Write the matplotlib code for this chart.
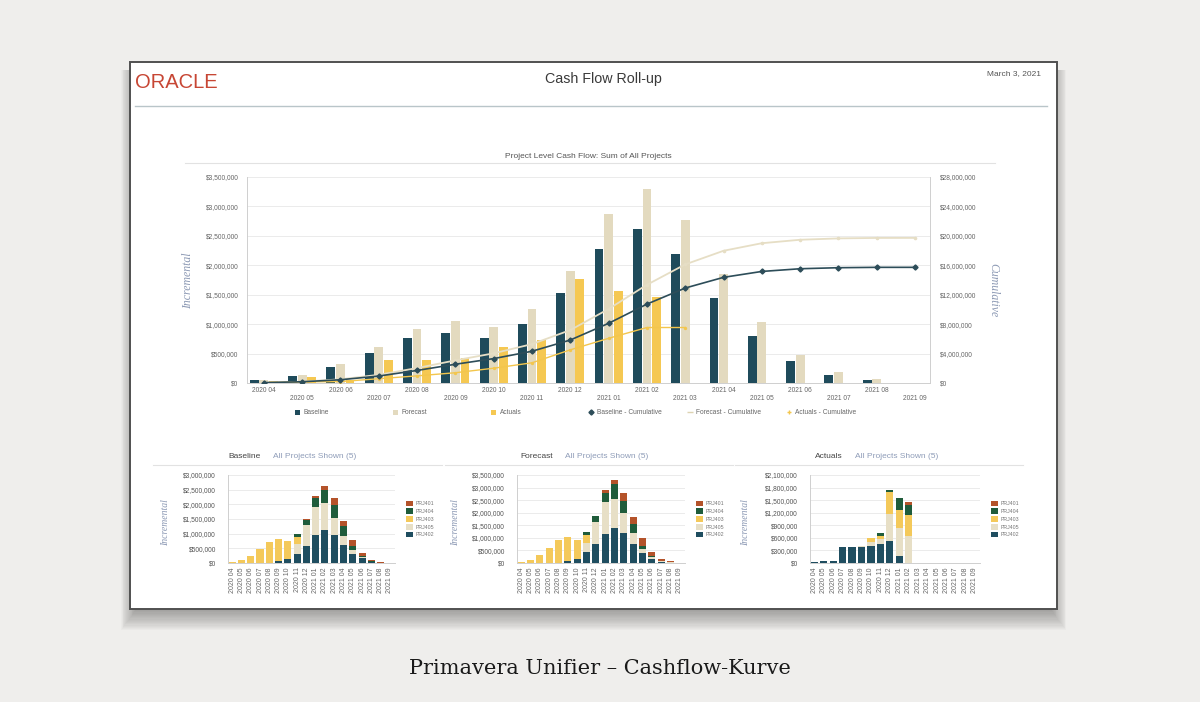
import numpy as np
import matplotlib
matplotlib.use('Agg')
import matplotlib.pyplot as plt
from matplotlib.patches import Rectangle, Patch
from matplotlib.lines import Line2D
from matplotlib.ticker import FuncFormatter, MultipleLocator

plt.rcParams['font.family'] = ['Liberation Sans', 'DejaVu Sans']

# ---------------- data ----------------
months = ['2020 04', '2020 05', '2020 06', '2020 07', '2020 08', '2020 09',
          '2020 10', '2020 11', '2020 12', '2021 01', '2021 02', '2021 03',
          '2021 04', '2021 05', '2021 06', '2021 07', '2021 08', '2021 09']

# main chart, incremental ($)
baseline = np.array([50, 120, 271, 503, 763, 842, 768, 1000, 1525, 2270, 2610, 2187,
                     1452, 802, 367, 141, 51, 0]) * 1000
forecast = np.array([45, 130, 328, 610, 921, 1045, 955, 1254, 1904, 2870, 3288, 2769,
                     1853, 1028, 469, 186, 62, 5]) * 1000
actuals = np.array([40, 107, 50, 384, 390, 424, 616, 735, 1763, 1565, 1469, 0,
                    0, 0, 0, 0, 0, 0]) * 1000
actuals_months_shown = 12  # actuals cumulative drawn through 2021 03

# per-project stacks (bottom -> top)
projects = ['PRJ402', 'PRJ405', 'PRJ403', 'PRJ404', 'PRJ401']

base_proj = {
    'PRJ402': [0, 0, 0, 0, 0, 55, 135, 320, 590, 960, 1130, 950, 600, 305, 170, 30, 10, 0],
    'PRJ405': [0, 0, 0, 0, 0, 0, 0, 330, 710, 960, 910, 580, 330, 145, 30, 10, 5, 0],
    'PRJ403': [35, 113, 250, 490, 725, 770, 600, 250, 0, 0, 0, 0, 0, 0, 0, 0, 0, 0],
    'PRJ404': [0, 0, 0, 0, 0, 0, 0, 100, 150, 280, 450, 450, 320, 140, 50, 30, 0, 0],
    'PRJ401': [0, 0, 0, 0, 0, 0, 0, 0, 50, 90, 140, 250, 180, 200, 80, 43, 30, 0],
}
fore_proj = {
    'PRJ402': [0, 0, 0, 0, 0, 80, 170, 420, 765, 1170, 1390, 1190, 765, 400, 160, 40, 10, 0],
    'PRJ405': [0, 0, 0, 0, 0, 0, 0, 380, 885, 1270, 1140, 790, 445, 155, 80, 20, 10, 0],
    'PRJ403': [30, 130, 300, 580, 920, 950, 730, 330, 0, 0, 0, 0, 0, 0, 0, 0, 0, 0],
    'PRJ404': [0, 0, 0, 0, 0, 0, 0, 100, 220, 360, 610, 500, 350, 135, 50, 30, 10, 0],
    'PRJ401': [0, 0, 0, 0, 0, 0, 0, 0, 0, 90, 160, 290, 260, 300, 145, 80, 30, 0],
}
act_proj = {
    'PRJ402': [20, 50, 50, 370, 370, 380, 395, 455, 535, 157, 0, 0, 0, 0, 0, 0, 0, 0],
    'PRJ405': [0, 0, 0, 0, 0, 15, 95, 110, 645, 670, 645, 0, 0, 0, 0, 0, 0, 0],
    'PRJ403': [0, 0, 0, 0, 0, 0, 100, 80, 510, 445, 495, 0, 0, 0, 0, 0, 0, 0],
    'PRJ404': [0, 8, 8, 0, 0, 0, 0, 65, 60, 280, 240, 0, 0, 0, 0, 0, 0, 0],
    'PRJ401': [0, 0, 0, 0, 0, 0, 0, 0, 0, 0, 80, 0, 0, 0, 0, 0, 0, 0],
}

# ---------------- styles ----------------
C_BASE = '#1f4b5b'
C_FORE = '#e3dabf'
C_ACT = '#f5c852'
proj_colors = {'PRJ402': '#1f4e60', 'PRJ405': '#e7dfc6', 'PRJ403': '#f4c95a',
               'PRJ404': '#1f5c3b', 'PRJ401': '#b4532a'}
TICK_C = '#666666'
AXLAB_C = '#8c99b4'

W, H = 1200, 702
fig = plt.figure(figsize=(W / 100, H / 100), dpi=100, facecolor='#efeeec')
bg = fig.add_axes([0, 0, 1, 1])
bg.set_xlim(0, W)
bg.set_ylim(H, 0)
bg.axis('off')

# soft shadow (mostly below) + frame
for i in range(18):
    bg.add_patch(Rectangle((136 - i * 0.9, 70), 915 + i * 1.8, 540 + i * 1.2,
                           facecolor='black', edgecolor='none', alpha=0.02, zorder=1))
bg.add_patch(Rectangle((130, 62), 927, 547, facecolor='white', edgecolor='#505050',
                       lw=1.4, zorder=2))

# header
bg.text(135, 82, 'ORACLE', color='#c74634', fontsize=14.5, ha='left', va='center', zorder=3)
bg.text(603, 79, 'Cash Flow Roll-up', color='#3a3a3a', fontsize=10.3, ha='center',
        va='center', zorder=3)
bg.text(1041, 74, 'March 3, 2021', color='#555555', fontsize=6, ha='right', va='center',
        zorder=3)
bg.plot([135, 1047], [106, 106], color='#b9c5c9', lw=1, zorder=3)

# caption
bg.text(600, 668, 'Primavera Unifier \u2013 Cashflow-Kurve', family='DejaVu Serif',
        fontsize=15, color='#1a1a1a', ha='center', va='center', zorder=3)

# main chart title
bg.text(588, 156, 'Project Level Cash Flow: Sum of All Projects', color='#555555',
        fontsize=6, ha='center', va='center', zorder=3)
bg.plot([185, 995], [163, 163], color='#e2e2e2', lw=0.8, zorder=3)
bg.text(188, 281, 'Incremental', rotation=90, fontsize=8.5, style='italic',
        family='Liberation Serif', color=AXLAB_C, ha='center', va='center', zorder=3)
bg.text(993, 290, 'Cumulative', rotation=270, fontsize=8.5, style='italic',
        family='Liberation Serif', color=AXLAB_C, ha='center', va='center', zorder=3)


def fax(l, t, r, b):
    a = fig.add_axes([l / W, 1 - b / H, (r - l) / W, (b - t) / H])
    a.set_facecolor('none')
    return a


dollar = FuncFormatter(lambda v, p: f'${v:,.0f}')

# ---------------- main chart ----------------
x = np.arange(len(months))
ax = fax(247, 177, 930, 383)
bw = 0.23
ax.bar(x - 0.25, baseline, bw, color=C_BASE, zorder=2)
ax.bar(x, forecast, bw, color=C_FORE, zorder=2)
ax.bar(x + 0.25, actuals, bw, color=C_ACT, zorder=2)
ax.set_xlim(-0.44, 17.39)
ax.set_ylim(0, 3.5e6)
ax.yaxis.set_major_locator(MultipleLocator(5e5))
ax.yaxis.set_major_formatter(dollar)
ax.grid(axis='y', color='#e8e8e8', lw=0.6, zorder=0)
ax.set_axisbelow(True)
ax.set_xticks(x)
ax.set_xticklabels([m if i % 2 == 0 else '\n' + m for i, m in enumerate(months)])
ax.tick_params(axis='x', length=0, pad=3, labelsize=4.8, labelcolor=TICK_C)
ax.tick_params(axis='y', length=0, pad=6, labelsize=4.8, labelcolor=TICK_C)
for s in ['left', 'right', 'bottom']:
    ax.spines[s].set_color('#cfcfcf')
    ax.spines[s].set_linewidth(0.7)
ax.spines['top'].set_visible(False)

ax2 = ax.twinx()
ax2.set_facecolor('none')
ax2.set_ylim(0, 28e6)
ax2.yaxis.set_major_locator(MultipleLocator(4e6))
ax2.yaxis.set_major_formatter(dollar)
ax2.tick_params(axis='y', length=0, pad=7, labelsize=4.8, labelcolor=TICK_C)
for s in ax2.spines.values():
    s.set_visible(False)
ax2.plot(x, np.cumsum(forecast), color='#e6dec5', lw=1.3, marker='o', ms=1.6, zorder=3)
ax2.plot(x[:actuals_months_shown], np.cumsum(actuals)[:actuals_months_shown],
         color='#f3c64d', lw=1.0, marker='o', ms=1.4, zorder=3)
ax2.plot(x, np.cumsum(baseline), color='#2d4d59', lw=1.2, marker='D', ms=2.6, zorder=4)

# main legend (one small legend per entry)
leg_items = [
    (295, Patch(facecolor=C_BASE), 'Baseline'),
    (393, Patch(facecolor=C_FORE), 'Forecast'),
    (491, Patch(facecolor=C_ACT), 'Actuals'),
    (588, Line2D([], [], color='none', marker='D', ms=2.6, mfc='#2d4d59', mec='#2d4d59'),
     'Baseline - Cumulative'),
    (687, Line2D([], [], color='none', marker='_', ms=4, mec='#ddd3b2'),
     'Forecast - Cumulative'),
    (786, Line2D([], [], color='none', marker='+', ms=3.5, mec='#f3c64d'),
     'Actuals - Cumulative'),
]
for px, h, lab in leg_items:
    fig.legend([h], [lab], loc='center left', bbox_to_anchor=(px / W, 1 - 413 / H),
               frameon=False, fontsize=4.8, handlelength=0.8, handleheight=0.8,
               handletextpad=0.5, borderpad=0, borderaxespad=0, labelcolor=TICK_C)


# ---------------- small charts ----------------
def small_chart(l, r, data, ymax, step, title, title_x, sub_x, line_l, line_r, lab_x):
    a = fax(l, 475, r, 563)
    bottom = np.zeros(len(months))
    for p in projects:
        vals = np.array(data[p]) * 1000
        a.bar(x, vals, 0.76, bottom=bottom, color=proj_colors[p], zorder=2)
        bottom += vals
    a.set_xlim(-0.45, 17.55)
    a.set_ylim(0, ymax)
    a.yaxis.set_major_locator(MultipleLocator(step))
    a.yaxis.set_major_formatter(dollar)
    a.grid(axis='y', color='#e8e8e8', lw=0.6, zorder=0)
    a.set_axisbelow(True)
    a.set_xticks(x)
    a.set_xticklabels(months, rotation=90)
    a.tick_params(axis='x', length=0, pad=3, labelsize=5, labelcolor=TICK_C)
    a.tick_params(axis='y', length=0, pad=8.5, labelsize=4.8, labelcolor='#555555')
    for s in ['top', 'right']:
        a.spines[s].set_visible(False)
    for s in ['left', 'bottom']:
        a.spines[s].set_color('#cfcfcf')
        a.spines[s].set_linewidth(0.7)
    handles = [Patch(facecolor=proj_colors[p]) for p in projects[::-1]]
    a.legend(handles, projects[::-1], loc='center left', bbox_to_anchor=(1.065, 0.5),
             frameon=False, fontsize=3.8, handlelength=1.4, handleheight=1.2,
             labelspacing=0.45, handletextpad=0.5, borderpad=0, borderaxespad=0,
             labelcolor='#777777')
    bg.text(title_x, 457, title, fontsize=6, color='#444444', ha='left', va='center', zorder=3)
    bg.text(sub_x, 457, 'All Projects Shown (5)', fontsize=6, color='#8e9cb8', ha='left',
            va='center', zorder=3)
    bg.plot([line_l, line_r], [465, 465], color='#e2e2e2', lw=0.8, zorder=3)
    bg.text(lab_x, 523, 'Incremental', rotation=90, fontsize=7, style='italic',
            family='Liberation Serif', color=AXLAB_C, ha='center', va='center', zorder=3)
    return a


small_chart(228, 395, base_proj, 3.0e6, 5e5, 'Baseline', 228, 273, 153, 442, 166)
small_chart(517, 685, fore_proj, 3.5e6, 5e5, 'Forecast', 520, 565, 445, 733, 456)
small_chart(810, 980, act_proj, 2.1e6, 3e5, 'Actuals', 815, 855, 735, 1023, 746)

fig.savefig('out.png', dpi=100, facecolor=fig.get_facecolor())
